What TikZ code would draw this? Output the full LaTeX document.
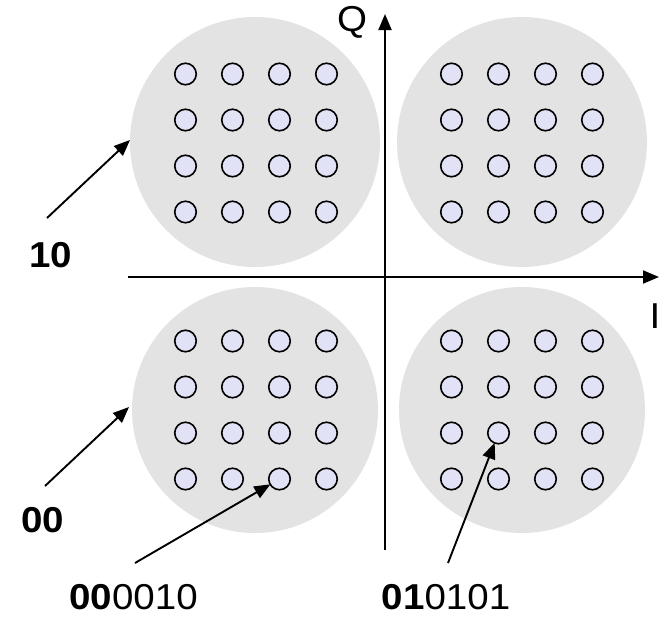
\documentclass[tikz,border=0pt]{standalone}
\usepackage{fontspec}
\setmainfont{Liberation Sans}
\usetikzlibrary{arrows.meta}
\definecolor{cloud}{HTML}{E3E3E3}
\definecolor{dotfill}{HTML}{E2E2F6}
\begin{document}
\begin{tikzpicture}[x=1pt,y=-1pt,
  cloudc/.style={circle,fill=cloud,draw=none,minimum size=250pt,inner sep=0pt},
  sym/.style={circle,fill=dotfill,draw=black,line width=1.6pt,minimum size=21.5pt,inner sep=0pt},
  arr/.style={line width=1.9pt,-{Triangle[length=16pt,width=13pt]}},
  lbl/.style={font=\fontsize{36}{40}\selectfont,inner sep=0pt,xscale=1.07}]
\useasboundingbox (0,0) rectangle (659,619);
% clouds
\node[cloudc] (cTL) at (255,142) {};
\node[cloudc] (cTR) at (522,142) {};
\node[cloudc,minimum size=246pt] (cBL) at (255,410) {};
\node[cloudc,minimum size=246pt] (cBR) at (522,410) {};
% dots
\foreach \q/\cx/\cy in {TL/256/143,TR/522/143,BL/256/410,BR/522/410}{
  \foreach \i in {1,...,4}{
    \foreach \j in {1,...,4}{
      \node[sym] (\q-\i-\j) at ({\cx+(\i-2.5)*47},{\cy+(\j-2.5)*46}) {};
    }
  }
}
% axes
\coordinate (xs) at (128,277);
\coordinate (xe) at (659,277);
\coordinate (ys) at (385,550);
\coordinate (ye) at (385,14);
\draw[arr] (xs) -- (xe);
\draw[arr] (ys) -- (ye);
\node[lbl] (Q) at (352,22) {Q};
\node[lbl] (I) at (655,316) {I};
% labels
\node[lbl] (l10) at (51,255) {\bfseries 10};
\node[lbl] (l00) at (43,520) {\bfseries 00};
\node[lbl] (lA) at (133.5,597) {\textbf{00}0010};
\node[lbl] (lB) at (446,597) {\textbf{01}0101};
\coordinate (a1s) at (47,218);
\coordinate (a1e) at (130,140);
\coordinate (a2s) at (45,486);
\coordinate (a2e) at (129,407);
\coordinate (a3s) at (135,563);
\coordinate (a4s) at (448,563);
\draw[arr] (a1s) -- (a1e);
\draw[arr] (a2s) -- (a2e);
\draw[arr,shorten >=-1pt] (a3s) -- (BL-3-4);
\draw[arr,shorten >=-1pt] (a4s) -- (BR-2-3);
\end{tikzpicture}
\end{document}
